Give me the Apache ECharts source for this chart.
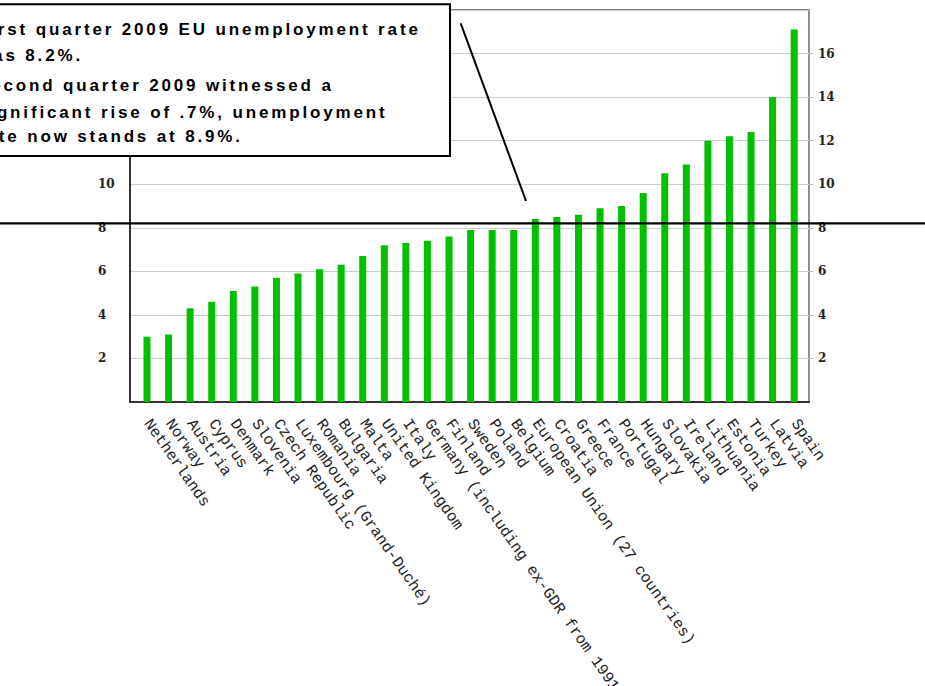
<!DOCTYPE html>
<html>
<head>
<meta charset="utf-8">
<script src="https://cdn.jsdelivr.net/npm/echarts@6/dist/echarts.min.js"></script>
<style>
  html, body { margin: 0; padding: 0; background: #ffffff; }
  #chart { width: 925px; height: 686px; }
</style>
</head>
<body>
<div id="chart"></div>
<script>
// Unemployment rate by country, second quarter 2009 (%), sorted ascending
const countries = [
  'Netherlands', 'Norway', 'Austria', 'Cyprus', 'Denmark', 'Slovenia',
  'Czech Republic', 'Luxembourg (Grand-Duché)', 'Romania', 'Bulgaria', 'Malta',
  'United Kingdom', 'Italy', 'Germany (including ex-GDR from 1991)', 'Finland',
  'Sweden', 'Poland', 'Belgium', 'European Union (27 countries)', 'Croatia',
  'Greece', 'France', 'Portugal', 'Hungary', 'Slovakia', 'Ireland', 'Lithuania',
  'Estonia', 'Turkey', 'Latvia', 'Spain'
];
const rates = [
  3.0, 3.1, 4.3, 4.6, 5.1, 5.3,
  5.7, 5.9, 6.1, 6.3, 6.7,
  7.2, 7.3, 7.4, 7.6,
  7.9, 7.9, 7.9, 8.4, 8.5,
  8.6, 8.9, 9.0, 9.6, 10.5, 10.9, 12.0,
  12.2, 12.4, 14.0, 17.1
];
// Value axis range and step
const yMin = 0;
const yMax = 18;
const yStep = 2;
// Left-hand labels above this value sit under the note box
const leftLabelLimit = 10;
// EU rate in the first quarter of 2009, drawn as a reference line
const euFirstQuarter = 8.2;
// Note text, one entry per line
const noteLines = [
  'First quarter 2009 EU unemployment rate',
  'was 8.2%.',
  'Second quarter 2009 witnessed a',
  'significant rise of .7%, unemployment',
  'rate now stands at 8.9%.'
];
const noteLineY = [29.5, 55.5, 85.5, 112, 136.5];

const chart = echarts.init(document.getElementById('chart'), null, { renderer: 'svg' });

const valueLabel = {
  fontFamily: 'DejaVu Serif',
  fontWeight: 'bold',
  fontSize: 12,
  color: '#222',
  showMinLabel: false,
  showMaxLabel: false
};

chart.setOption({
  animation: false,
  backgroundColor: '#ffffff',
  grid: [
    // frame grid: border, gridlines, value labels
    { left: 130, right: 116, top: 10, bottom: 284, show: true, outerBoundsMode: 'none',
      borderColor: '#555', borderWidth: 1.3, backgroundColor: 'transparent' },
    // bar grid: slightly inset category band
    { left: 136.2, right: 120, top: 10, bottom: 284, outerBoundsMode: 'none' }
  ],
  xAxis: [
    { gridIndex: 0, type: 'value', min: 0, max: 1,
      axisLine: { show: true, lineStyle: { color: '#333', width: 2 } },
      axisTick: { show: false }, axisLabel: { show: false }, splitLine: { show: false } },
    { gridIndex: 1, type: 'category', data: countries,
      axisLine: { show: false }, axisTick: { show: false },
      axisLabel: { interval: 0, rotate: -55, margin: 19,
        fontFamily: 'Liberation Mono', fontSize: 15.6, color: '#222' } }
  ],
  yAxis: [
    { gridIndex: 0, type: 'value', position: 'left', min: yMin, max: yMax, interval: yStep,
      axisLine: { show: true, lineStyle: { color: '#333', width: 2 } },
      axisTick: { show: false },
      axisLabel: Object.assign({ align: 'left', margin: 32,
        formatter: function (v) { return v <= leftLabelLimit ? String(v) : ''; } }, valueLabel),
      splitLine: { show: true, lineStyle: { color: '#cccccc', width: 1 } } },
    { gridIndex: 0, type: 'value', position: 'right', min: yMin, max: yMax, interval: yStep,
      axisLine: { show: false },
      axisTick: { show: true, length: 4, lineStyle: { color: '#bbbbbb' } },
      axisLabel: Object.assign({ margin: 9 }, valueLabel),
      splitLine: { show: false } },
    { gridIndex: 1, type: 'value', min: yMin, max: yMax, show: false }
  ],
  series: [{
    type: 'bar',
    xAxisIndex: 1,
    yAxisIndex: 2,
    data: rates,
    barWidth: 7,
    itemStyle: { color: '#00c000' },
    z: 3
  }]
});

// Reference line and note box
const refY = chart.convertToPixel({ yAxisIndex: 0 }, euFirstQuarter);
const graphics = [
  { type: 'line', z: 50, shape: { x1: 0, y1: refY, x2: 925, y2: refY },
    style: { stroke: '#000', lineWidth: 2.4 } },
  { type: 'line', z: 50, shape: { x1: 460.7, y1: 23.3, x2: 526, y2: 201 },
    style: { stroke: '#000', lineWidth: 2 } },
  { type: 'rect', z: 60, shape: { x: -10, y: 4.2, width: 460, height: 151.8 },
    style: { fill: '#ffffff', stroke: '#000', lineWidth: 2 } }
];
noteLines.forEach(function (t, i) {
  graphics.push({
    type: 'text', z: 61, x: -23, y: noteLineY[i],
    style: { text: t, fill: '#000', font: 'bold 17px "Liberation Sans", Arial, sans-serif',
      textAlign: 'left', textVerticalAlign: 'middle' }
  });
});
chart.setOption({ graphic: graphics });

// Widen the tracking of the note text
function spaceNote() {
  const nodes = document.querySelectorAll('#chart svg text');
  nodes.forEach(function (n) {
    if (noteLines.indexOf(n.textContent) >= 0) {
      n.style.letterSpacing = '2.85px';
    }
  });
}
chart.on('finished', spaceNote);
spaceNote();
[0, 50, 200, 600].forEach(function (d) { setTimeout(spaceNote, d); });
</script>
</body>
</html>
